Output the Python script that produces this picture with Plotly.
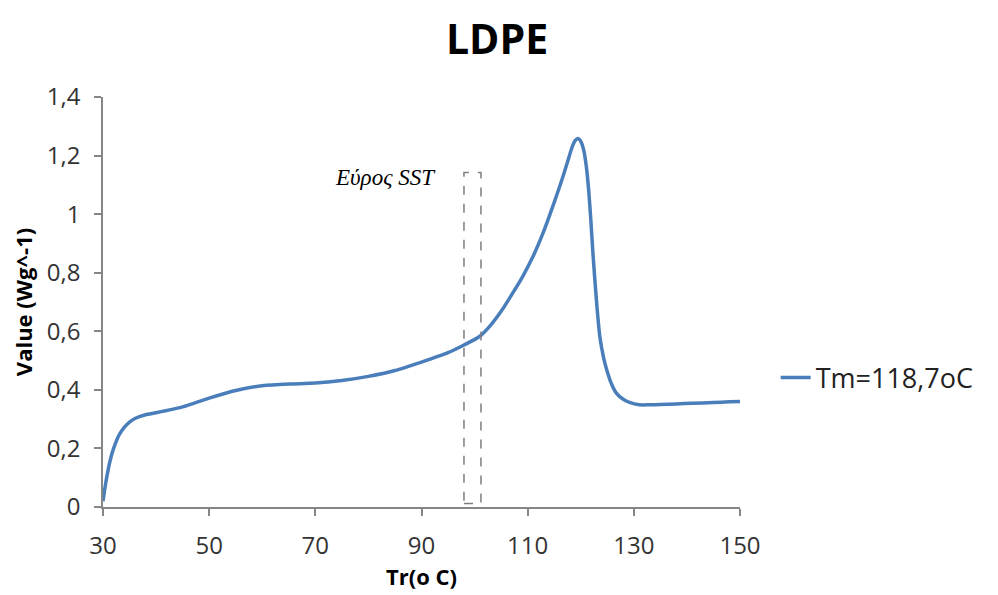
import plotly.graph_objects as go

# Data
temperature = [30, 30.5, 31, 31.5, 32, 33, 34, 35, 36, 38, 40, 45, 50, 55, 60, 65, 70, 75,
               80, 85, 90, 95, 98, 101, 103, 105, 107, 109, 111, 113, 115, 116.5, 117.5,
               118.3, 118.9, 119.5, 120.1, 120.6, 121.1, 121.5, 121.9, 122.3, 123, 123.6,
               124.3, 124.9, 125.8, 126.7, 128, 129.2, 131, 133, 135, 138, 141, 145, 148, 150]
value = [0.02, 0.08, 0.13, 0.17, 0.2, 0.245, 0.272, 0.29, 0.302, 0.315, 0.322, 0.342,
         0.372, 0.398, 0.414, 0.42, 0.423, 0.432, 0.446, 0.466, 0.495, 0.527, 0.553,
         0.583, 0.62, 0.668, 0.725, 0.785, 0.855, 0.94, 1.04, 1.12, 1.178,
         1.225, 1.25, 1.258, 1.245, 1.215, 1.155, 1.08, 0.98, 0.865, 0.695, 0.581,
         0.51, 0.468, 0.42, 0.389, 0.368, 0.357, 0.349, 0.349, 0.35, 0.352, 0.354,
         0.357, 0.359, 0.36]

series_name = "Tm=118,7oC"
title_text = "LDPE"
x_title = "Tr(o C)"
y_title = "Value (Wg^-1)"
sst_label = "Εύρος SST"
sst_range = [98.0, 101.2]
sst_height = [0.012, 1.142]

x_ticks = [30, 50, 70, 90, 110, 130, 150]
y_ticks = [0, 0.2, 0.4, 0.6, 0.8, 1.0, 1.2, 1.4]
y_tick_labels = ["0", "0,2", "0,4", "0,6", "0,8", "1", "1,2", "1,4"]

fig = go.Figure()
fig.add_trace(go.Scatter(
    x=temperature, y=value, mode="lines", name=series_name,
    line=dict(color="#4A7EBB", width=3.5, shape="spline", smoothing=0.6),
))

fig.add_shape(type="rect", xref="x", yref="y",
              x0=sst_range[0], x1=sst_range[1], y0=sst_height[0], y1=sst_height[1],
              line=dict(color="#7f7f7f", width=1.5, dash="dash"))

fig.add_annotation(x=83.3, y=1.124, xref="x", yref="y", text="<i>" + sst_label + "</i>",
                   showarrow=False, xanchor="center", yanchor="middle",
                   font=dict(family="Liberation Serif", size=23, color="#000000"))

axis_font = dict(family="Open Sans", size=24, color="#333333")

fig.update_layout(
    width=998, height=595,
    margin=dict(l=95, r=266, t=89, b=96),
    paper_bgcolor="white", plot_bgcolor="white",
    title=dict(text="<b>" + title_text + "</b>", x=0.49, xref="container", y=0.946,
               yref="container", xanchor="center", yanchor="middle",
               font=dict(family="Open Sans", size=41, color="#000000")),
    showlegend=True,
    legend=dict(x=1.056, y=0.315, xanchor="left", yanchor="middle",
                font=dict(family="Open Sans", size=27, color="#222222"),
                bgcolor="rgba(0,0,0,0)"),
    xaxis=dict(range=[30, 150], tickvals=x_ticks, showgrid=False, zeroline=False,
               showline=True, linecolor="#868686", linewidth=1.5,
               ticks="outside", ticklen=7, tickcolor="#868686", tickwidth=1.5,
               tickfont=axis_font, ticklabelstandoff=9,
               title=dict(text="<b>" + x_title + "</b>", standoff=8,
                          font=dict(family="Open Sans", size=22, color="#000000"))),
    yaxis=dict(range=[0, 1.4], tickvals=y_ticks, ticktext=y_tick_labels, showgrid=False,
               zeroline=False, showline=True, linecolor="#868686", linewidth=1.5,
               ticks="outside", ticklen=7, tickcolor="#868686", tickwidth=1.5,
               tickfont=axis_font, ticklabelstandoff=9,
               title=dict(text="<b>" + y_title + "</b>", standoff=8,
                          font=dict(family="Open Sans", size=22, color="#000000"))),
)

fig.write_html("out.html")
